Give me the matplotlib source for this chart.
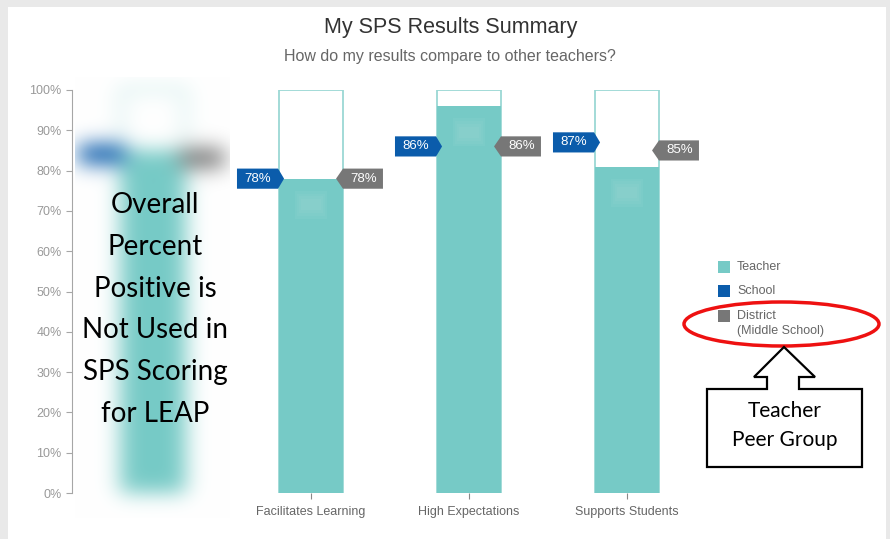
import numpy as np
import matplotlib
matplotlib.use("Agg")
import matplotlib.pyplot as plt
from matplotlib.patches import Rectangle, Polygon, Ellipse

# data
categories = ["Overall", "Facilitates Learning", "High Expectations", "Supports Students"]
teacher = [85, 78, 96, 81]
school = [84, 78, 86, 87]
district = [83, 78, 86, 85]
yticks = [0, 10, 20, 30, 40, 50, 60, 70, 80, 90, 100]
note_lines = ["Overall", "Percent", "Positive is", "Not Used in", "SPS Scoring", "for LEAP"]

TEAL = "#76cac6"
TEAL_EDGE = "#9bd8d4"
BLUE = "#0b5cab"
GRAY = "#777777"

W, H = 890, 539
fig = plt.figure(figsize=(W / 100, H / 100), dpi=100)
fig.patch.set_facecolor("#e9e9e9")


def fx(p):
    return p / W


def fy(p):
    return 1 - p / H


# white page
fig.add_artist(Rectangle((fx(8), 0), fx(886) - fx(8), fy(7), transform=fig.transFigure,
                         facecolor="white", edgecolor="none", zorder=-5))

ax = fig.add_axes([fx(72), fy(493), fx(700) - fx(72), fy(90) - fy(493)])
ax.patch.set_alpha(0)

bw = 0.405
box_w = 0.26
box_h = 5.0
xpos = np.arange(len(categories))

# real bars (skip the first one, it is blurred)
for i in xpos[1:]:
    ax.add_patch(Rectangle((i - bw / 2, 0), bw, 100, facecolor="white",
                           edgecolor=TEAL_EDGE, lw=1.3, zorder=2))
ax.bar(xpos[1:], teacher[1:], width=bw, color=TEAL, zorder=3)
# soft glow near the top of each fill
for i in xpos[1:]:
    for g in range(4):
        ax.add_patch(Rectangle((i - bw / 4 + g * 0.012, teacher[i] - 10 + g * 0.7),
                               bw / 2 - g * 0.024, 7 - g * 1.4,
                               facecolor="#a4dcd8", edgecolor="none", alpha=0.12, zorder=3))

for i in xpos[1:]:
    bl = i - bw / 2
    br = i + bw / 2
    s = school[i]
    d = district[i]
    ax.add_patch(Polygon([(bl - 0.266, s - box_h / 2), (bl - 0.006, s - box_h / 2),
                          (bl + 0.032, s), (bl - 0.006, s + box_h / 2),
                          (bl - 0.266, s + box_h / 2)],
                         closed=True, facecolor=BLUE, edgecolor="none", zorder=5))
    ax.text(bl - 0.136, s, f"{s}%", color="white", fontsize=9.5, ha="center",
            va="center", zorder=6, family="Liberation Sans")
    ax.add_patch(Polygon([(br + 0.253, d - box_h / 2), (br, d - box_h / 2),
                          (br - 0.044, d), (br, d + box_h / 2),
                          (br + 0.253, d + box_h / 2)],
                         closed=True, facecolor=GRAY, edgecolor="none", zorder=5))
    ax.text(br + 0.13, d, f"{d}%", color="white", fontsize=9.5, ha="center",
            va="center", zorder=6, family="Liberation Sans")

# blurred first bar, built from its values and smeared with a gaussian
x0, x1 = (75 - 153) / 158, (230 - 153) / 158
y0, y1 = -6.2, 103
nx, ny = 156, 440
xs = np.linspace(x0, x1, nx)
ys = np.linspace(y0, y1, ny)
X, Y = np.meshgrid(xs, ys)
img = np.ones((ny, nx, 3))


def paint(mask, color):
    rgb = np.array(matplotlib.colors.to_rgb(color))
    img[mask] = rgb


edge = 0.008
paint((np.abs(np.abs(X) - bw / 2) < edge) & (Y >= 0) & (Y <= 100), TEAL_EDGE)
paint((np.abs(X) < bw / 2) & (np.abs(Y - 100) < 0.4), TEAL_EDGE)
paint((np.abs(X) < bw / 2) & (Y >= 0) & (Y <= teacher[0]), TEAL)
paint((X > -bw / 2 - 0.266) & (X < -bw / 2 + 0.02) & (np.abs(Y - school[0]) < box_h / 2), BLUE)
paint((X < bw / 2 + 0.253) & (X > bw / 2 - 0.03) & (np.abs(Y - district[0]) < box_h / 2), GRAY)


def blur1d(a, sigma, axis):
    r = int(3 * sigma)
    k = np.exp(-0.5 * (np.arange(-r, r + 1) / sigma) ** 2)
    k /= k.sum()
    pad = [(0, 0)] * a.ndim
    pad[axis] = (r, r)
    ap = np.pad(a, pad, mode="edge")
    return np.apply_along_axis(lambda v: np.convolve(v, k, mode="valid"), axis, ap)


for c in range(3):
    ch = blur1d(img[:, :, c], 11, 1)
    img[:, :, c] = blur1d(ch, 10, 0)
ax.imshow(img, extent=(x0, x1, y0, y1), origin="lower", aspect="auto",
          interpolation="bilinear", zorder=1, clip_on=False)
ax.set_xlim((72 - 153) / 158, (700 - 153) / 158)
ax.set_ylim(0, 100)

# axes styling
for sp in ["top", "right", "bottom"]:
    ax.spines[sp].set_visible(False)
ax.spines["left"].set_color("#a6a6a6")
ax.set_yticks(yticks)
ax.set_yticklabels([f"{v}%" for v in yticks])
ax.tick_params(axis="y", colors="#a6a6a6", labelcolor="#999999", labelsize=9,
               length=4.5, pad=3)
ax.set_xticks(xpos[1:])
ax.set_xticklabels(categories[1:])
ax.tick_params(axis="x", colors="#888888", labelcolor="#666666", labelsize=9,
               length=4.5, pad=5)
for lab in ax.get_xticklabels() + ax.get_yticklabels():
    lab.set_family("Liberation Sans")

# titles
fig.text(fx(451), fy(27), "My SPS Results Summary", ha="center", va="center",
         fontsize=15.5, color="#333333", family="Liberation Sans")
fig.text(fx(450), fy(56), "How do my results compare to other teachers?", ha="center",
         va="center", fontsize=11.5, color="#666666", family="Liberation Sans")

# legend
leg_items = [("Teacher", TEAL, 267), ("School", BLUE, 291), ("District", GRAY, 316)]
for name, col, yy in leg_items:
    fig.add_artist(Rectangle((fx(718), fy(yy + 6)), 12 / W, 12 / H, transform=fig.transFigure,
                             facecolor=col, edgecolor="none"))
    fig.text(fx(737), fy(yy), name, ha="left", va="center", fontsize=9,
             color="#666666", family="Liberation Sans")
fig.text(fx(737), fy(331), "(Middle School)", ha="left", va="center", fontsize=9,
         color="#666666", family="Liberation Sans")

# overlay note on the blurred bar
for k, line in enumerate(note_lines):
    fig.text(fx(155), fy(205 + 41.8 * k), line, ha="center", va="center",
             fontsize=20, color="black", family="Lato")

# red ellipse around district
fig.add_artist(Ellipse((fx(781.5), fy(324)), 195 / W, 44 / H, transform=fig.transFigure,
                       facecolor="none", edgecolor="#ee1111", lw=2.5))

# arrow box
pts = [(707, 389), (767, 389), (767, 377), (754, 377), (784, 347), (815, 377),
       (799, 377), (799, 389), (862, 389), (862, 467), (707, 467)]
fig.add_artist(Polygon([(fx(a), fy(b)) for a, b in pts], closed=True,
                       transform=fig.transFigure, facecolor="white",
                       edgecolor="black", lw=1.6))
fig.text(fx(785), fy(411), "Teacher", ha="center", va="center", fontsize=15,
         color="black", family="Lato")
fig.text(fx(785), fy(440), "Peer Group", ha="center", va="center", fontsize=15,
         color="black", family="Lato")

fig.savefig("out.png", dpi=100, facecolor=fig.get_facecolor())
